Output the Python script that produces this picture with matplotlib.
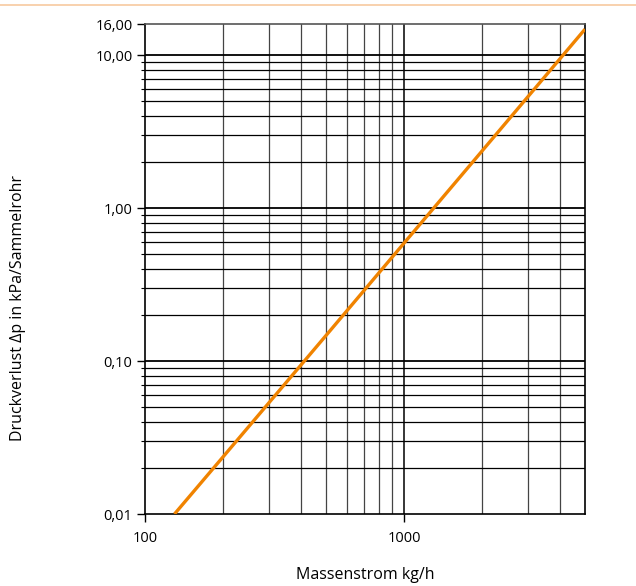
import matplotlib
matplotlib.use("Agg")
import matplotlib.pyplot as plt
from matplotlib.ticker import FixedLocator, FixedFormatter, NullFormatter

plt.rcParams['font.family'] = ['Open Sans', 'DejaVu Sans']

# Massenstrom kg/h und Druckverlust kPa
massenstrom = [130, 200, 500, 1000, 2000, 5000]
druckverlust = [0.010, 0.0236, 0.147, 0.59, 2.36, 14.8]

y_ticks = [0.01, 0.1, 1, 10, 16]
y_labels = ["0,01", "0,10", "1,00", "10,00", "16,00"]
x_ticks = [100, 1000]
x_labels = ["100", "1000"]

W, H = 636, 586
fig = plt.figure(figsize=(W / 100, H / 100), dpi=100)
ax = fig.add_axes([145 / W, 1 - 514 / H, 440 / W, 490 / H])

# orange Linie oben
fig.add_artist(plt.Line2D([0, 1], [1 - 5 / H, 1 - 5 / H], color="#f7c9a0", lw=1.2,
                          transform=fig.transFigure))

ax.set_xscale("log")
ax.set_yscale("log")
ax.set_xlim(100, 5000)
ax.set_ylim(0.01, 16)

# Gitter
for v in [200, 300, 400, 500, 600, 700, 800, 900, 2000, 3000, 4000]:
    ax.axvline(v, color="#444444", lw=0.9, zorder=1)
ax.axvline(1000, color="black", lw=1.1, zorder=1)
for dec in [0.01, 0.1, 1]:
    for k in range(2, 10):
        ax.axhline(dec * k, color="black", lw=0.9, zorder=1)
for v in [0.1, 1, 10]:
    ax.axhline(v, color="black", lw=1.3, zorder=1)

ax.plot(massenstrom, druckverlust, color="#f08300", lw=2.4, zorder=3, solid_capstyle="butt")

ax.yaxis.set_major_locator(FixedLocator(y_ticks))
ax.yaxis.set_major_formatter(FixedFormatter(y_labels))
ax.yaxis.set_minor_formatter(NullFormatter())
ax.xaxis.set_major_locator(FixedLocator(x_ticks))
ax.xaxis.set_major_formatter(FixedFormatter(x_labels))
ax.xaxis.set_minor_locator(FixedLocator([]))

ax.tick_params(axis="both", which="major", length=6, width=1, labelsize=10.5, pad=3)
ax.tick_params(axis="x", which="major", pad=6)
ax.tick_params(axis="y", which="minor", length=3, width=0.8)

for s in ax.spines.values():
    s.set_linewidth(1.2)
ax.spines["top"].set_color("#555555")

fig.text(365 / W, 1 - 575 / H, "Massenstrom kg/h", fontsize=11.5, ha="center", va="center")
fig.text(18 / W, 1 - 308 / H, "Druckverlust \u0394p in kPa/Sammelrohr", fontsize=11.5,
         ha="center", va="center", rotation=90)

fig.savefig("out.png", dpi=100)
